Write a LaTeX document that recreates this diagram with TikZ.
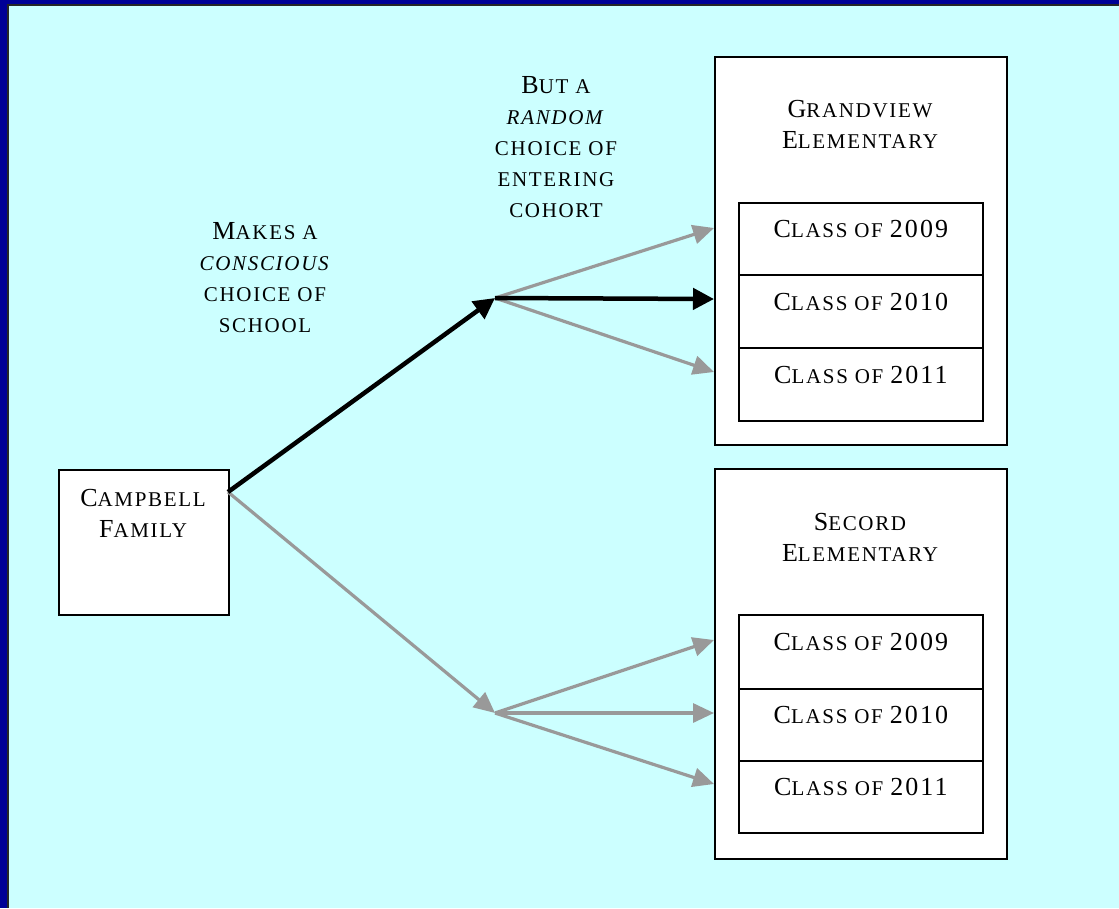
\documentclass[tikz,border=0pt]{standalone}
\usepackage{fontspec}
\setmainfont[LetterSpace=8]{Liberation Serif}
\usetikzlibrary{arrows.meta,calc}
\definecolor{bgblue}{RGB}{0,0,150}
\definecolor{bgcyan}{RGB}{204,255,255}
\definecolor{arrgray}{RGB}{153,153,153}
\newcommand\Bg[1]{{\fontsize{26}{31}\selectfont #1}}
\begin{document}
\begin{tikzpicture}[x=1pt,y=-1pt,
  box/.style={draw=black,line width=1.8pt,fill=white,inner sep=0pt,anchor=north west},
  txt/.style={align=center,inner sep=0pt,font=\fontsize{21}{31}\selectfont},
  grayarrow/.style={draw=arrgray,line width=3.2pt,-{Triangle[length=21pt,width=19pt]}},
  blackarrow/.style={draw=black,line width=4.5pt,-{Triangle[length=21pt,width=21pt]}}]
\useasboundingbox (0,0) rectangle (1119,908);
\fill[bgblue] (0,0) rectangle (1119,908);
\fill[bgcyan] (8,5) rectangle (1119,908);
\draw[line width=2pt,black!85] (8,908) -- (8,5) -- (1119,5);

% Campbell
\node[box,minimum width=170,minimum height=145] (camp) at (58,469) {};
\node[txt] (campt) at (143,513) {\Bg{C}AMPBELL\\\Bg{F}AMILY};

% Grandview
\node[box,minimum width=292,minimum height=388] (gv) at (714,56) {};
\node[txt] (gvt) at (860,124) {\Bg{G}RANDVIEW\\\Bg{E}LEMENTARY};
\node[box,minimum width=244,minimum height=72] (gv9) at (738,202) {};
\node[box,minimum width=244,minimum height=73] (gv10) at (738,274) {};
\node[box,minimum width=244,minimum height=73] (gv11) at (738,347) {};
\node[txt] (gv9t) at ($(gv9.north)+(0,27)$) {\Bg{C}LASS OF \Bg{2009}};
\node[txt] (gv10t) at ($(gv10.north)+(0,28)$) {\Bg{C}LASS OF \Bg{2010}};
\node[txt] (gv11t) at ($(gv11.north)+(0,28)$) {\Bg{C}LASS OF \Bg{2011}};

% Secord
\node[box,minimum width=292,minimum height=390] (sc) at (714,468) {};
\node[txt] (sct) at (860,537) {\Bg{S}ECORD\\\Bg{E}LEMENTARY};
\node[box,minimum width=244,minimum height=74] (sc9) at (738,614) {};
\node[box,minimum width=244,minimum height=72] (sc10) at (738,688) {};
\node[box,minimum width=244,minimum height=72] (sc11) at (738,760) {};
\node[txt] (sc9t) at ($(sc9.north)+(0,28)$) {\Bg{C}LASS OF \Bg{2009}};
\node[txt] (sc10t) at ($(sc10.north)+(0,27)$) {\Bg{C}LASS OF \Bg{2010}};
\node[txt] (sc11t) at ($(sc11.north)+(0,27)$) {\Bg{C}LASS OF \Bg{2011}};

% labels
\node[txt] (lab1) at (265,278) {\Bg{M}AKES A\\\textit{CONSCIOUS}\\CHOICE OF\\SCHOOL};
\node[txt] (lab2) at (556,147) {\Bg{B}UT A\\\textit{RANDOM}\\CHOICE OF\\ENTERING\\COHORT};

% connectors
\coordinate (cs) at (228,492);
\coordinate (jt) at (495,298);
\coordinate (jb) at (495,713);
\coordinate (t1) at ($(gv.north west)+(0,172)$);
\coordinate (t2) at ($(gv.north west)+(0,243)$);
\coordinate (t3) at ($(gv.north west)+(0,316)$);
\coordinate (b1) at ($(sc.north west)+(0,172)$);
\coordinate (b2) at ($(sc.north west)+(0,245)$);
\coordinate (b3) at ($(sc.north west)+(0,316)$);

\draw[grayarrow] (cs) -- (jb);
\draw[grayarrow] (jt) -- (t1);
\draw[grayarrow] (jt) -- (t3);
\draw[grayarrow] (jb) -- (b1);
\draw[grayarrow] (jb) -- (b2);
\draw[grayarrow] (jb) -- (b3);
\draw[blackarrow] (jt) -- (t2);
\draw[blackarrow] (cs) -- (jt);
\end{tikzpicture}
\end{document}
